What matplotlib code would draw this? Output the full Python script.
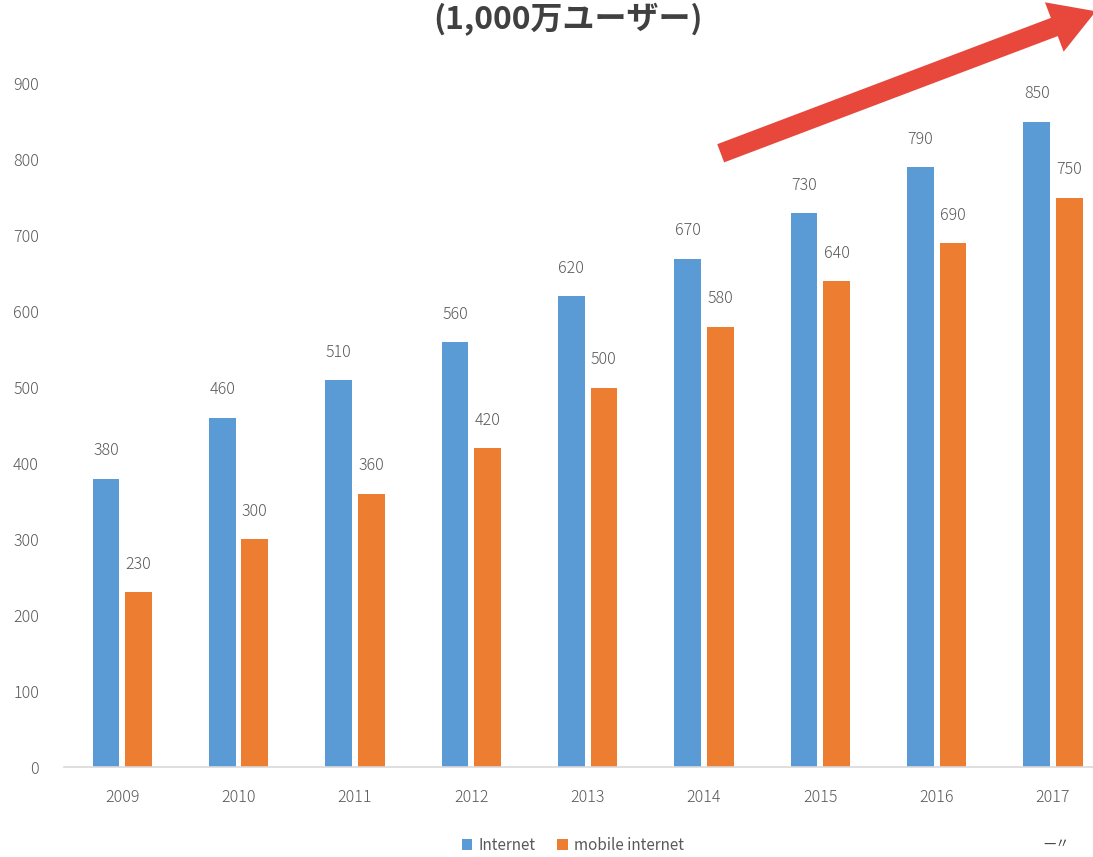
import numpy as np
import matplotlib.pyplot as plt

plt.rcParams['font.family'] = ['Noto Sans CJK JP', 'DejaVu Sans']

# データ
years = ['2009', '2010', '2011', '2012', '2013', '2014', '2015', '2016', '2017']
internet = [380, 460, 510, 560, 620, 670, 730, 790, 850]
mobile = [230, 300, 360, 420, 500, 580, 640, 690, 750]

blue = '#5B9BD5'
orange = '#ED7D31'
gray = '#595959'

fig = plt.figure(figsize=(10.93, 8.57), dpi=100)
ax = fig.add_axes([0.0586, 0.105, 0.958, 0.797])

x = np.arange(len(years))
w = 0.23
off = 0.14
b1 = ax.bar(x - off, internet, width=w, color=blue, label='Internet')
b2 = ax.bar(x + off, mobile, width=w, color=orange, label='mobile internet')

for bars in (b1, b2):
    for r in bars:
        ax.annotate(f'{int(r.get_height())}', (r.get_x() + r.get_width() / 2, r.get_height()),
                    xytext=(0, 14), textcoords='offset points', ha='center', va='bottom',
                    fontsize=11.5, color=gray, fontweight='light')

ax.set_xlim(-0.5, len(years) - 0.5)
ax.set_ylim(0, 900)
ax.set_yticks(range(0, 1000, 100))
ax.set_xticks(x)
ax.set_xticklabels(years)
ax.tick_params(axis='both', length=0, labelsize=11.5, labelcolor=gray)
ax.tick_params(axis='y', pad=18)
ax.tick_params(axis='x', pad=16)
for t in ax.get_xticklabels() + ax.get_yticklabels():
    t.set_fontweight('light')
for s in ['top', 'right', 'left']:
    ax.spines[s].set_visible(False)
ax.spines['bottom'].set_color('#D9D9D9')
ax.spines['bottom'].set_linewidth(1.2)

fig.text(0.52, 0.977, '(1,000万ユーザー)', ha='center', va='center',
         fontsize=23, fontweight='bold', color='#404040')

# 赤い矢印
ax.annotate('', xy=(1.005, 0.988), xycoords='figure fraction',
            xytext=(0.657, 0.82), textcoords='figure fraction',
            arrowprops=dict(arrowstyle='simple,head_length=1.6,head_width=1.9,tail_width=0.7',
                            color='#E8483C', lw=0, mutation_scale=20),
            annotation_clip=False)

fig.legend(handles=[b1, b2], loc='center', bbox_to_anchor=(0.524, 0.014), ncol=2,
           frameon=False, fontsize=11, labelcolor=gray, handlelength=0.7,
           handleheight=0.7, handletextpad=0.4, columnspacing=1.4)

fig.text(0.967, 0.016, '—〃', ha='center', va='center', fontsize=10, color='#404040')

fig.savefig('out.png', dpi=100)
